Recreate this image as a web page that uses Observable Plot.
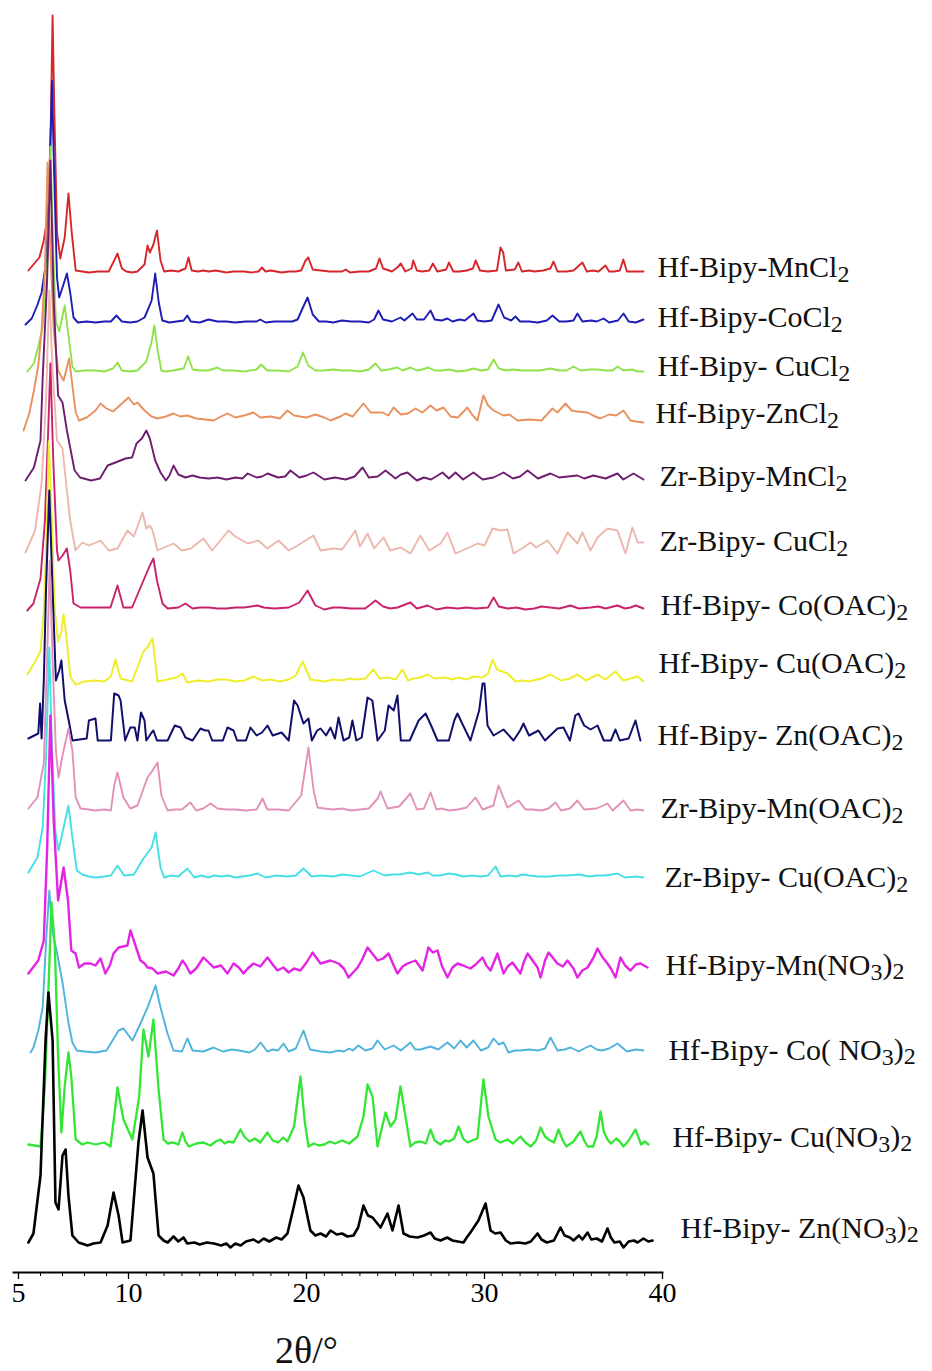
<!DOCTYPE html>
<html>
<head>
<meta charset="utf-8">
<script src="https://cdn.jsdelivr.net/npm/d3@7"></script>
<script src="https://cdn.jsdelivr.net/npm/@observablehq/plot@0.6"></script>
<style>
  html, body { margin: 0; padding: 0; background: #fff; }
  #chart svg { display: block; }
</style>
</head>
<body>
<div id="chart"></div>
<script>
// Powder XRD patterns, [2θ (°), intensity (a.u.)] per sample, stacked top to bottom.
const hfMnCl2 = [[5.45,2],[5.95,15],[6.15,32],[6.35,60],[6.47,150],[6.55,257],[6.63,160],[6.75,40],[6.9,14],[7.1,35],[7.27,79],[7.42,40],[7.6,2],[7.9,1],[8.2,0],[8.6,1],[9.1,1],[9.35,12],[9.5,19],[9.7,4],[9.9,1],[10.2,0],[10.5,1],[10.9,8],[11.07,27],[11.2,20],[11.4,28],[11.6,42],[11.8,12],[12.0,1],[12.4,2],[12.8,1],[13.2,4],[13.37,15],[13.55,2],[13.9,1],[14.2,2],[14.5,1],[14.9,2],[15.5,0],[15.9,1],[16.5,1],[16.9,0],[17.3,1],[17.5,5],[17.7,1],[18.0,2],[18.3,1],[18.6,0],[19.0,1],[19.4,1],[19.7,2],[19.95,12],[20.1,15],[20.35,3],[20.8,2],[21.3,1],[22.0,1],[22.2,3],[22.45,0],[23.0,1],[23.5,1],[23.9,4],[24.1,14],[24.3,4],[24.8,1],[25.1,5],[25.3,9],[25.55,1],[25.9,4],[26.0,12],[26.2,2],[26.5,1],[26.9,2],[27.1,9],[27.35,1],[27.6,2],[27.85,3],[28.0,10],[28.25,1],[28.6,1],[29.0,2],[29.35,4],[29.5,12],[29.75,2],[30.2,1],[30.7,2],[30.9,25],[31.05,20],[31.2,2],[31.7,3],[31.9,10],[32.1,1],[32.5,2],[32.8,1],[33.3,2],[33.7,4],[33.88,11],[34.1,1],[34.6,1],[35.0,2],[35.5,10],[35.75,1],[36.1,2],[36.4,1],[36.8,7],[37.0,1],[37.3,1],[37.6,2],[37.8,13],[38.0,1],[38.5,1],[38.93,1]];
const hfCoCl2 = [[5.32,-2],[5.6,4],[5.85,17],[6.05,30],[6.25,60],[6.4,130],[6.52,242],[6.62,150],[6.75,45],[6.85,25],[7.0,35],[7.2,49],[7.35,30],[7.5,5],[7.7,0],[8.1,1],[8.5,0],[8.9,1],[9.2,1],[9.45,7],[9.7,1],[10.1,0],[10.5,1],[10.9,5],[11.07,12],[11.3,22],[11.5,49],[11.7,20],[11.9,2],[12.3,0],[12.7,1],[13.1,2],[13.3,7],[13.5,1],[14.0,0],[14.5,3],[15.0,1],[15.5,1],[16.0,0],[16.6,1],[17.2,1],[17.4,3],[17.7,0],[18.2,1],[18.8,1],[19.2,1],[19.5,3],[19.8,15],[20.06,25],[20.35,8],[20.7,1],[21.1,1],[21.5,0],[22.0,2],[22.5,1],[23.0,1],[23.5,0],[23.8,3],[24.04,12],[24.3,3],[24.8,1],[25.28,5],[25.5,2],[25.96,9],[26.2,3],[26.6,3],[26.97,12],[27.2,3],[27.6,2],[27.92,4],[28.2,1],[28.6,3],[28.9,2],[29.38,9],[29.6,2],[30.0,1],[30.4,2],[30.79,18],[31.1,5],[31.5,2],[31.74,6],[32.0,1],[32.5,1],[33.0,0],[33.5,2],[33.82,7],[34.2,1],[34.6,1],[35.0,2],[35.22,9],[35.5,1],[36.0,2],[36.3,1],[36.69,4],[37.0,0],[37.5,2],[37.81,9],[38.1,1],[38.5,0],[38.93,3]];
const hfCuCl2 = [[5.4,0],[5.7,8],[5.9,25],[6.1,45],[6.3,100],[6.45,225],[6.58,120],[6.7,50],[6.85,40],[7.1,66],[7.25,40],[7.45,5],[7.6,0],[8.0,1],[8.5,1],[8.9,0],[9.3,3],[9.5,9],[9.7,1],[10.1,0],[10.5,1],[11.0,10],[11.3,30],[11.45,46],[11.65,20],[11.85,1],[12.1,0],[12.5,1],[13.1,3],[13.35,15],[13.6,2],[14.0,1],[14.5,1],[15.0,4],[15.3,1],[15.9,1],[16.5,0],[17.2,2],[17.45,7],[17.8,1],[18.4,1],[19.0,0],[19.5,5],[19.8,19],[20.1,6],[20.5,1],[21.0,1],[21.5,2],[22.0,1],[22.5,1],[23.0,0],[23.5,2],[23.88,8],[24.2,1],[24.6,2],[25.11,4],[25.4,1],[25.84,4],[26.2,1],[26.5,2],[26.85,4],[27.2,1],[27.6,1],[28.0,2],[28.5,0],[29.0,1],[29.38,3],[29.8,1],[30.2,2],[30.51,12],[30.8,3],[31.2,1],[31.6,2],[32.1,1],[32.5,1],[33.1,1],[33.71,3],[34.2,1],[34.6,1],[35.0,5],[35.4,1],[35.9,2],[36.35,2],[36.8,1],[37.2,1],[37.47,5],[37.8,1],[38.3,2],[38.6,0],[38.93,0]];
const hfZnCl2 = [[5.23,-10],[5.5,8],[5.7,30],[5.9,55],[6.05,90],[6.2,150],[6.32,258],[6.45,170],[6.6,90],[6.8,50],[7.05,40],[7.3,62],[7.45,35],[7.6,8],[7.75,0],[8.1,3],[8.5,10],[8.73,17],[9.0,12],[9.3,9],[9.6,15],[10.0,23],[10.3,16],[10.5,18],[10.9,10],[11.3,4],[11.63,2],[12.1,4],[12.53,7],[12.9,4],[13.3,5],[13.8,2],[14.3,1],[14.78,0],[15.2,4],[15.56,7],[16.0,3],[16.5,5],[17.02,8],[17.4,3],[18.0,4],[18.5,2],[18.93,10],[19.3,5],[20.0,3],[20.5,6],[21.0,3],[21.35,0],[21.9,4],[22.19,7],[22.6,4],[23.2,17],[23.6,8],[24.27,8],[24.6,5],[24.89,13],[25.3,6],[25.7,7],[26.12,12],[26.5,8],[26.97,15],[27.3,10],[27.7,13],[28.1,4],[28.5,3],[29.04,13],[29.3,6],[29.6,0],[29.94,25],[30.2,15],[30.51,10],[31.07,5],[31.4,6],[31.85,0],[32.5,1],[33.2,0],[33.82,12],[34.1,8],[34.55,17],[34.9,10],[35.2,9],[35.79,8],[36.1,5],[36.5,2],[37.0,6],[37.4,5],[37.81,10],[38.2,0],[38.5,-1],[38.93,-2]];
const zrMnCl2 = [[5.32,0],[5.7,13],[6.0,40],[6.1,103],[6.3,200],[6.45,320],[6.6,180],[6.8,85],[7.0,78],[7.2,50],[7.55,10],[7.8,3],[8.3,0],[8.7,2],[9.05,15],[9.41,18],[9.86,22],[10.2,23],[10.45,37],[10.75,42],[11.0,50],[11.2,42],[11.5,20],[11.8,8],[12.1,0],[12.3,5],[12.53,15],[12.8,6],[13.2,3],[13.6,5],[14.0,3],[14.5,2],[15.0,3],[15.5,1],[16.0,3],[16.4,2],[16.69,7],[17.2,3],[17.5,4],[17.81,7],[18.4,3],[18.8,4],[19.1,10],[19.6,3],[20.0,5],[20.39,8],[21.0,1],[21.6,3],[22.2,1],[22.7,4],[23.15,13],[23.5,3],[24.0,4],[24.44,10],[25.0,2],[25.3,6],[25.67,8],[26.2,0],[26.6,3],[27.0,1],[27.64,8],[28.0,2],[28.37,8],[28.8,1],[29.38,8],[29.9,1],[30.5,3],[31.07,8],[31.6,2],[32.0,4],[32.42,10],[33.0,2],[33.71,7],[34.2,3],[34.7,4],[35.22,5],[35.6,2],[36.12,5],[36.8,2],[37.47,7],[37.8,1],[38.37,7],[38.93,1]];
const zrCuCl2 = [[5.32,-2],[5.75,20],[6.05,67],[6.25,150],[6.4,260],[6.55,180],[6.75,110],[7.0,102],[7.2,60],[7.35,30],[7.59,0],[7.9,8],[8.2,5],[8.73,10],[9.1,0],[9.5,2],[9.95,20],[10.3,14],[10.79,38],[11.0,22],[11.2,25],[11.35,20],[11.63,0],[12.0,3],[12.53,7],[13.0,0],[13.5,2],[14.21,12],[14.7,0],[15.62,20],[16.0,14],[16.69,7],[17.3,10],[17.8,2],[18.43,10],[19.0,0],[19.5,5],[20.39,15],[20.79,0],[21.5,2],[22.0,1],[22.36,10],[22.75,20],[23.0,4],[23.43,17],[23.8,2],[24.33,13],[24.7,0],[25.3,3],[25.84,-3],[26.4,15],[26.9,0],[27.53,7],[27.92,18],[28.37,-3],[29.0,2],[29.61,7],[30.0,5],[30.45,22],[30.9,20],[31.29,21],[31.63,-3],[32.19,3],[32.58,8],[32.9,3],[33.54,10],[34.1,-3],[34.66,18],[35.22,7],[35.5,18],[35.96,0],[36.35,13],[36.91,22],[37.47,20],[37.92,-3],[38.31,23],[38.6,8],[38.93,8]];
const hfCoOAc2 = [[5.4,0],[5.68,7],[6.0,32],[6.2,90],[6.35,180],[6.45,247],[6.58,150],[6.75,60],[6.82,50],[7.0,55],[7.2,62],[7.35,40],[7.5,7],[7.82,3],[8.5,3],[9.18,3],[9.5,25],[9.77,3],[10.2,3],[10.84,30],[11.2,45],[11.4,52],[11.6,30],[11.91,7],[12.2,2],[12.8,3],[13.2,7],[13.6,2],[14.0,3],[14.5,3],[15.0,2],[15.5,2],[16.0,3],[16.5,3],[17.25,5],[17.6,3],[18.2,2],[19.0,3],[19.6,8],[20.06,20],[20.5,5],[21.0,1],[21.5,3],[21.91,3],[22.5,2],[23.3,2],[23.88,10],[24.3,4],[24.7,2],[25.11,3],[25.84,8],[26.2,2],[26.8,5],[27.3,1],[27.9,3],[28.5,2],[29.0,3],[29.5,2],[30.2,3],[30.51,13],[30.8,4],[31.3,2],[31.8,3],[32.3,1],[32.8,2],[33.2,4],[33.7,3],[34.2,2],[34.83,5],[35.3,2],[35.96,3],[36.4,4],[36.8,2],[37.47,5],[37.9,2],[38.2,3],[38.5,5],[38.93,2]];
const hfCuOAc2 = [[5.4,7],[5.68,17],[6.0,30],[6.15,70],[6.28,150],[6.38,240],[6.5,170],[6.65,70],[6.8,40],[6.95,50],[7.05,67],[7.2,40],[7.35,5],[7.59,-3],[8.0,0],[8.5,1],[8.9,0],[9.2,5],[9.41,22],[9.64,3],[10.2,0],[10.67,22],[10.84,30],[11.1,35],[11.35,43],[11.63,0],[12.2,2],[12.7,4],[13.03,8],[13.3,-1],[13.9,1],[14.5,0],[15.0,2],[15.5,2],[16.0,0],[16.5,1],[17.02,5],[17.5,1],[18.0,2],[18.5,0],[19.0,2],[19.4,6],[19.78,20],[20.22,2],[20.6,1],[21.0,0],[21.5,2],[22.0,1],[22.4,3],[22.8,2],[23.3,3],[23.76,12],[24.1,3],[24.6,4],[25.0,2],[25.39,12],[25.7,1],[26.0,3],[26.4,4],[26.8,7],[27.2,3],[27.8,4],[28.2,2],[28.5,4],[29.0,2],[29.38,5],[29.9,4],[30.2,8],[30.45,22],[30.7,12],[31.29,8],[31.74,0],[32.1,1],[32.5,0],[33.2,3],[33.71,7],[34.3,1],[34.8,3],[35.22,7],[35.7,1],[36.35,7],[36.8,2],[37.36,10],[37.8,1],[38.2,3],[38.6,5],[38.93,0]];
const hfZnOAc2 = [[5.45,2],[5.9,7],[5.98,37],[6.05,2],[6.15,60],[6.25,150],[6.4,250],[6.55,150],[6.7,60],[6.85,70],[6.95,80],[7.1,40],[7.3,18],[7.45,0],[8.1,2],[8.2,20],[8.5,22],[8.6,0],[9.2,0],[9.35,47],[9.55,45],[9.64,40],[9.85,0],[10.1,13],[10.35,13],[10.5,0],[10.7,28],[10.9,20],[11.0,0],[11.3,8],[11.4,10],[11.6,0],[12.2,0],[12.6,15],[12.92,13],[13.2,3],[13.6,0],[14.04,12],[14.3,10],[14.49,10],[14.7,0],[15.3,0],[15.56,13],[15.9,10],[16.1,0],[16.6,0],[16.85,13],[17.2,5],[17.5,8],[17.81,15],[18.1,5],[18.6,8],[19.0,0],[19.3,40],[19.5,35],[19.83,17],[20.11,22],[20.3,0],[20.6,10],[20.79,12],[21.1,5],[21.35,13],[21.6,2],[21.8,23],[22.08,0],[22.4,3],[22.58,20],[22.8,0],[23.1,3],[23.43,43],[23.7,40],[23.99,0],[24.4,10],[24.61,35],[24.9,30],[25.11,45],[25.3,0],[25.8,0],[26.3,20],[26.69,27],[27.0,15],[27.36,0],[28.0,0],[28.3,20],[28.48,27],[28.8,15],[29.21,0],[29.7,30],[29.89,57],[30.0,57],[30.17,15],[30.51,5],[31.07,11],[31.63,0],[32.0,10],[32.19,17],[32.5,5],[33.03,10],[33.4,0],[34.1,12],[34.44,13],[34.8,0],[35.1,25],[35.28,27],[35.6,15],[35.96,11],[36.35,15],[36.7,0],[37.1,0],[37.36,11],[37.6,0],[38.1,2],[38.48,20],[38.76,0]];
const zrMnOAc2 = [[5.45,2],[5.86,13],[6.15,47],[6.3,150],[6.42,250],[6.55,150],[6.7,60],[6.82,33],[7.0,55],[7.27,82],[7.45,60],[7.6,13],[7.82,2],[8.2,1],[8.5,0],[8.9,1],[9.2,0],[9.35,25],[9.5,38],[9.77,13],[10.1,2],[10.5,5],[11.07,33],[11.35,40],[11.63,48],[11.85,15],[12.2,0],[12.6,1],[13.0,1],[13.48,8],[13.8,0],[14.2,2],[14.61,7],[15.0,2],[15.5,1],[16.0,1],[16.6,0],[17.2,1],[17.53,12],[17.8,1],[18.4,1],[19.0,0],[19.7,15],[20.11,63],[20.4,20],[20.62,3],[21.0,2],[21.5,1],[22.0,2],[22.5,0],[23.0,1],[23.5,2],[24.0,12],[24.16,19],[24.55,2],[25.2,4],[25.84,17],[26.2,1],[26.6,2],[26.97,18],[27.3,1],[27.6,2],[28.0,0],[28.5,1],[29.0,3],[29.49,13],[29.9,1],[30.5,5],[30.79,25],[31.29,3],[31.91,10],[32.3,1],[32.7,1],[33.2,0],[33.6,2],[33.99,8],[34.3,0],[34.8,2],[35.22,10],[35.6,1],[36.3,2],[36.91,7],[37.2,0],[37.81,10],[38.2,0],[38.6,1],[38.93,0]];
const zrCuOAc2 = [[5.45,5],[5.86,20],[6.1,50],[6.25,120],[6.4,230],[6.52,130],[6.68,45],[6.82,27],[7.05,50],[7.27,72],[7.45,40],[7.65,7],[7.9,3],[8.2,1],[8.5,0],[8.9,1],[9.2,2],[9.5,12],[9.8,2],[10.3,3],[10.84,19],[11.3,30],[11.52,45],[11.8,10],[12.0,0],[12.4,2],[12.8,1],[13.31,9],[13.7,0],[14.1,2],[14.5,0],[14.8,2],[15.2,1],[15.6,2],[16.0,0],[16.4,1],[16.8,2],[17.25,4],[17.7,0],[18.3,2],[18.9,1],[19.4,2],[19.83,9],[20.3,1],[20.8,2],[21.5,1],[22.0,3],[22.5,2],[23.0,1],[23.76,7],[24.4,2],[24.8,3],[25.2,3],[25.84,5],[26.3,3],[26.8,5],[27.1,2],[27.5,2],[28.0,4],[28.4,3],[28.8,1],[29.3,2],[29.8,1],[30.2,2],[30.62,11],[30.9,1],[31.4,2],[31.8,1],[32.1,3],[32.5,2],[33.0,1],[33.6,1],[34.2,2],[34.7,2],[35.3,3],[35.9,1],[36.3,2],[36.8,2],[37.47,4],[37.9,0],[38.5,1],[38.93,0]];
const hfMnNO32 = [[5.45,-3],[5.9,10],[6.15,30],[6.3,120],[6.45,255],[6.6,150],[6.8,70],[6.95,90],[7.05,103],[7.25,70],[7.4,20],[7.59,17],[7.75,3],[8.0,7],[8.27,7],[8.5,5],[8.73,12],[8.95,-3],[9.15,5],[9.32,17],[9.55,23],[9.95,25],[10.11,40],[10.3,30],[10.67,10],[10.9,7],[11.07,3],[11.35,2],[11.63,-3],[12.1,-1],[12.53,-5],[12.8,2],[13.03,10],[13.2,6],[13.48,-3],[13.8,2],[14.21,13],[14.5,8],[14.78,3],[15.2,5],[15.56,-3],[15.9,7],[16.2,3],[16.46,-3],[16.7,2],[17.02,7],[17.4,4],[17.81,13],[18.1,6],[18.37,0],[18.7,3],[19.0,-2],[19.3,2],[19.66,0],[20.0,8],[20.34,18],[20.79,7],[21.35,10],[21.8,7],[22.1,2],[22.36,-7],[22.87,3],[23.1,10],[23.43,23],[24.0,10],[24.3,12],[24.61,17],[24.9,5],[25.11,-3],[25.4,4],[25.67,7],[26.12,10],[26.52,0],[26.85,23],[27.1,18],[27.36,20],[27.6,5],[27.92,-7],[28.2,3],[28.48,7],[28.8,5],[29.21,2],[29.5,6],[29.89,13],[30.1,5],[30.34,0],[30.73,17],[31.07,-3],[31.3,4],[31.57,8],[32.02,-3],[32.2,8],[32.42,17],[32.7,10],[32.98,3],[33.15,-7],[33.4,10],[33.6,18],[34.1,7],[34.4,4],[34.66,10],[35.0,2],[35.22,-7],[35.5,0],[35.79,3],[36.1,12],[36.35,22],[36.6,14],[36.91,7],[37.1,2],[37.36,-7],[37.64,13],[37.9,5],[38.2,0],[38.5,6],[38.76,7],[39.16,3]];
const hfCoNO32 = [[5.55,0],[5.68,5],[5.9,22],[6.1,45],[6.25,110],[6.4,162],[6.55,120],[6.75,100],[7.0,70],[7.27,30],[7.45,10],[7.65,2],[8.0,1],[8.5,0],[9.0,2],[9.55,22],[9.77,24],[10.22,12],[10.67,29],[11.07,45],[11.52,67],[11.8,45],[12.19,19],[12.53,2],[13.0,1],[13.31,14],[13.6,2],[14.2,1],[14.78,5],[15.3,1],[15.8,3],[16.2,2],[16.8,0],[17.1,3],[17.42,10],[17.8,1],[18.1,3],[18.4,2],[18.71,9],[19.0,1],[19.4,4],[19.83,22],[20.2,3],[20.8,1],[21.35,0],[21.8,2],[22.1,1],[22.4,4],[22.6,2],[22.92,7],[23.3,2],[23.7,4],[23.99,12],[24.4,3],[24.89,7],[25.3,2],[25.84,10],[26.1,3],[26.4,3],[26.97,6],[27.4,3],[27.92,10],[28.3,4],[28.65,12],[29.0,5],[29.38,12],[29.8,2],[30.2,5],[30.51,14],[30.8,8],[31.07,10],[31.35,0],[31.7,2],[32.0,2],[32.5,3],[33.0,2],[33.4,4],[33.71,15],[34.1,2],[34.5,3],[34.83,5],[35.3,1],[35.6,4],[35.96,7],[36.3,3],[36.6,2],[37.0,4],[37.47,9],[38.0,1],[38.5,3],[38.93,2]];
const hfCuNO32 = [[5.45,2],[6.0,0],[6.2,60],[6.35,150],[6.5,244],[6.65,200],[6.8,90],[6.95,14],[7.1,60],[7.27,94],[7.4,70],[7.6,7],[7.9,2],[8.14,4],[8.5,2],[8.9,4],[9.18,0],[9.35,30],[9.5,59],[9.77,27],[10.22,7],[10.6,50],[10.84,117],[11.12,90],[11.4,127],[11.69,57],[11.97,7],[12.2,3],[12.5,4],[12.8,2],[13.03,14],[13.2,5],[13.4,0],[13.8,3],[14.2,4],[14.6,1],[14.9,5],[15.17,7],[15.4,3],[15.6,5],[15.9,4],[16.29,17],[16.5,10],[16.8,5],[17.1,8],[17.4,4],[17.81,14],[18.1,6],[18.4,4],[18.7,9],[18.93,5],[19.3,20],[19.66,70],[19.9,25],[20.11,0],[20.4,3],[20.7,1],[21.0,2],[21.3,5],[21.6,3],[22.0,6],[22.4,3],[22.87,10],[23.2,30],[23.43,62],[23.71,50],[23.99,0],[24.44,34],[24.72,20],[25.0,27],[25.28,60],[25.56,30],[25.84,0],[26.1,4],[26.4,5],[26.7,3],[26.97,17],[27.2,6],[27.53,2],[27.8,6],[28.0,5],[28.3,8],[28.54,20],[28.8,8],[29.04,4],[29.3,6],[29.6,8],[29.94,67],[30.22,30],[30.62,7],[30.9,4],[31.3,7],[31.6,3],[32.02,10],[32.3,4],[32.6,0],[32.9,6],[33.15,19],[33.4,10],[33.6,7],[33.9,4],[34.16,17],[34.4,6],[34.6,0],[35.0,5],[35.39,15],[35.6,6],[35.8,0],[36.1,0],[36.3,10],[36.52,35],[36.7,15],[36.91,7],[37.1,3],[37.4,8],[37.6,5],[37.81,0],[38.1,6],[38.48,17],[38.8,2],[39.0,5],[39.21,2]];
const hfZnNO32 = [[5.45,3],[5.68,12],[6.0,70],[6.23,205],[6.36,253],[6.55,205],[6.68,43],[6.82,36],[7.0,90],[7.14,96],[7.27,50],[7.45,10],[7.73,3],[8.14,0],[8.4,2],[8.73,3],[9.05,20],[9.32,53],[9.55,30],[9.73,3],[10.11,5],[10.56,103],[10.79,135],[11.07,88],[11.4,72],[11.69,10],[11.97,5],[12.2,3],[12.53,9],[12.8,4],[13.09,8],[13.3,2],[13.7,3],[14.0,1],[14.4,3],[14.8,2],[15.2,0],[15.5,2],[15.73,-2],[16.0,2],[16.3,0],[16.6,4],[17.02,6],[17.3,3],[17.6,7],[17.9,4],[18.3,8],[18.6,6],[18.93,12],[19.3,40],[19.55,60],[19.83,48],[20.22,15],[20.5,10],[20.79,12],[21.1,9],[21.35,15],[21.7,11],[22.0,12],[22.3,9],[22.64,10],[22.9,18],[23.2,40],[23.45,30],[23.71,28],[24.16,18],[24.55,32],[24.83,15],[25.17,40],[25.45,12],[25.8,9],[26.24,8],[26.6,10],[26.97,13],[27.2,7],[27.53,5],[27.9,8],[28.2,5],[28.5,4],[28.82,3],[29.0,8],[29.21,13],[29.66,25],[30.06,42],[30.34,15],[30.6,12],[30.9,13],[31.2,5],[31.46,2],[31.9,3],[32.3,2],[32.6,4],[32.98,12],[33.2,6],[33.5,3],[33.9,5],[34.27,18],[34.5,10],[34.8,8],[35.0,5],[35.3,10],[35.5,6],[35.79,13],[36.0,6],[36.3,7],[36.6,4],[36.91,17],[37.1,8],[37.3,3],[37.6,4],[37.81,-2],[38.1,4],[38.4,5],[38.6,3],[38.93,7],[39.2,4],[39.44,5]];

// Sample names (top to bottom) and the vertical offset of each pattern (a.u.)
const sampleNames = [
  "Hf-Bipy-MnCl₂", "Hf-Bipy-CoCl₂", "Hf-Bipy- CuCl₂", "Hf-Bipy-ZnCl₂",
  "Zr-Bipy-MnCl₂", "Zr-Bipy- CuCl₂", "Hf-Bipy- Co(OAC)₂", "Hf-Bipy- Cu(OAC)₂",
  "Hf-Bipy- Zn(OAC)₂", "Zr-Bipy-Mn(OAC)₂", "Zr-Bipy- Cu(OAC)₂", "Hf-Bipy-Mn(NO₃)₂",
  "Hf-Bipy- Co( NO₃)₂", "Hf-Bipy- Cu(NO₃)₂", "Hf-Bipy- Zn(NO₃)₂"
];
const patterns = [hfMnCl2, hfCoCl2, hfCuCl2, hfZnCl2, zrMnCl2, zrCuCl2, hfCoOAc2, hfCuOAc2,
  hfZnOAc2, zrMnOAc2, zrCuOAc2, hfMnNO32, hfCoNO32, hfCuNO32, hfZnNO32];
const offsets = [973, 923, 874, 825, 765, 695, 635, 564, 505, 435, 368, 275, 193, 99, 0];
const xTicks = [5, 10, 20, 30, 40];

// Drawing style
const palette = ["#d6262a", "#1d1db5", "#8ee24a", "#e8915e", "#6e1e6e", "#ecb7ad", "#c8226c", "#eeee2c",
  "#10106c", "#e291b8", "#45dfe6", "#e324e4", "#4fb3dc", "#33e633", "#000000"];
const strokeWidths = [1.9, 1.9, 1.9, 1.9, 1.9, 1.9, 1.9, 2.0, 2.0, 1.9, 1.9, 2.4, 1.9, 2.3, 2.6];
// label placement: lift above the baseline (a.u.) and gap after the trace end (px)
const labelLift = [5, 5, 5, 7, 4, 9, 5, 18, 5, 2, 0, 5, 2, 9, 17];
const labelGap = [14, 14, 14, 12, 16, 16, 17, 15, 17, 17, 21, 18, 25, 24, 28];

const rows = patterns.map((pts, i) =>
  pts.map(([t, v]) => ({t, y: v + offsets[i], sample: sampleNames[i]})));

const labels = patterns.map((pts, i) => ({
  t: pts[pts.length - 1][0],
  y: offsets[i] + labelLift[i],
  gap: labelGap[i],
  text: sampleNames[i]
}));

const serif = "'Liberation Serif', 'Times New Roman', serif";

const chart = Plot.plot({
  width: 932,
  height: 1371,
  marginLeft: 13,
  marginRight: 270,
  marginTop: 0,
  marginBottom: 99,
  style: {fontFamily: serif, background: "#fff", color: "#000"},
  x: {type: "linear", domain: [5, 10, 40], range: [18, 128, 662]},
  y: {domain: [0, 1230], range: [1245, 15], axis: null},
  marks: [
    ...rows.map((r, i) => Plot.line(r, {
      x: "t", y: "y", stroke: palette[i], strokeWidth: strokeWidths[i],
      strokeLinejoin: "round", strokeLinecap: "round"
    })),
    ...labels.map(l => Plot.text([l], {
      x: "t", y: "y", text: "text", dx: l.gap, textAnchor: "start",
      fontSize: 30, fontFamily: serif, fill: "#111", className: "sample-label"
    })),
    Plot.frame({anchor: "bottom", stroke: "#000", strokeWidth: 1.8}),
    Plot.axisX(d3.range(5, 41, 1), {tickSize: 4, text: null, label: null, strokeWidth: 1}),
    Plot.axisX(xTicks, {tickSize: 7, tickPadding: 3, fontSize: 28, fontFamily: serif,
      label: null, strokeWidth: 1.3}),
    Plot.text(["2θ/°"], {x: 20, frameAnchor: "bottom", dy: 90, fontSize: 38, fontFamily: serif,
      fill: "#111"})
  ]
});

// Render the chemical-formula digits (₂, ₃) as lowered, smaller tspans.
const subDigits = {"₂": "2", "₃": "3"};
d3.select(chart).selectAll(".sample-label text").each(function() {
  const str = this.textContent;
  const node = d3.select(this).text(null);
  const parts = [];
  for (const ch of str) {
    const sub = ch in subDigits;
    const c = sub ? subDigits[ch] : ch;
    const last = parts[parts.length - 1];
    if (last && last.sub === sub) last.s += c; else parts.push({s: c, sub});
  }
  let lowered = false;
  for (const p of parts) {
    const t = node.append("tspan").text(p.s);
    if (p.sub && !lowered) { t.attr("dy", "0.22em"); lowered = true; }
    else if (!p.sub && lowered) { t.attr("dy", "-0.22em"); lowered = false; }
    if (p.sub) t.attr("font-size", "0.8em");
  }
});

document.getElementById("chart").appendChild(chart);
</script>
</body>
</html>
